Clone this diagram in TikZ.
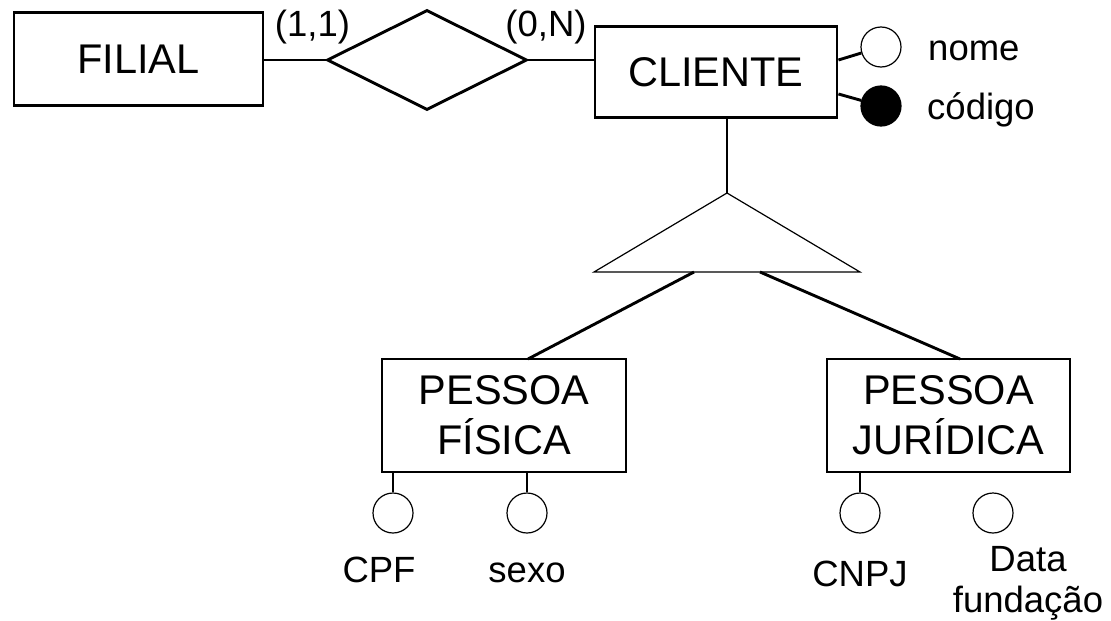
\documentclass[tikz,border=0pt]{standalone}
\usepackage{fontspec}
\setmainfont{Liberation Sans}
\usetikzlibrary{shapes.geometric,calc}
\begin{document}
\begin{tikzpicture}[x=1pt,y=-1pt,
  thickline/.style={line width=2.9pt},
  entity/.style={draw,line width=2.9pt,inner sep=0pt,align=center,
    font=\fontsize{41.5}{50}\selectfont},
  attr/.style={draw,circle,line width=1.2pt,minimum size=40pt,inner sep=0pt},
  keyattr/.style={attr,fill=black},
  lbl/.style={inner sep=0pt,align=center,font=\fontsize{36.5}{41}\selectfont}]
\useasboundingbox (0,0) rectangle (1111,621);
% entities
\node[entity,minimum width=249pt,minimum height=93pt] (filial) at (138.5,59) {FILIAL};
\node[draw,diamond,line width=2.9pt,minimum width=200pt,minimum height=100pt,inner sep=0pt] (rel) at (427,60) {};
\node[entity,minimum width=242pt,minimum height=91pt] (cliente) at (716,72) {CLIENTE};
\node[entity,minimum width=244pt,minimum height=113pt] (pf) at (504,415.5) {PESSOA\\FÍSICA};
\node[entity,minimum width=243pt,minimum height=113pt] (pj) at (948.5,415.5) {PESSOA\\JURÍDICA};
% relationship connectors
\draw[thickline] (filial.east |- rel.west) -- (rel.west);
\draw[thickline] (rel.east) -- (rel.east -| cliente.west);
\node[lbl] (c11) at (312.5,27) {(1,1)};
\node[lbl] (c0n) at (546,27) {(0,N)};
% CLIENTE attributes
\node[attr] (nome) at (881,47) {};
\node[keyattr] (codigo) at (881,106) {};
\draw[thickline] ($(cliente.east)+(0,-12)$) -- (nome);
\draw[thickline] ($(cliente.east)+(0,22)$) -- (codigo);
\node[lbl,anchor=west] (nomel) at (928,51) {nome};
\node[lbl,anchor=west] (codigol) at (927,110) {código};
% specialization triangle
\coordinate (isaTop) at (727,193);
\coordinate (isaL) at (594,272);
\coordinate (isaR) at (860,272);
\draw[line width=1.2pt,line join=miter] (isaTop) -- (isaL) -- (isaR) -- cycle;
\draw[thickline] (isaTop |- cliente.south) -- (isaTop);
\coordinate (isaPF) at (694,272);
\coordinate (isaPJ) at (760,272);
\draw[thickline] (isaPF) -- (528,359);
\draw[thickline] (isaPJ) -- (960,359);
% PF attributes
\node[attr] (cpf) at (393,513) {};
\node[attr] (sexo) at (527,513) {};
\draw[thickline] (cpf |- pf.south) -- (cpf);
\draw[thickline] (sexo |- pf.south) -- (sexo);
\node[lbl] (cpfl) at (379,570) {CPF};
\node[lbl] (sexol) at (527,573) {sexo};
% PJ attributes
\node[attr] (cnpj) at (860,513) {};
\node[attr] (dataf) at (993,513) {};
\draw[thickline] (cnpj |- pj.south) -- (cnpj);
\node[lbl] (cnpjl) at (860,574) {CNPJ};
\node[lbl] (datafl) at (1028,583) {Data\\fundação};
\end{tikzpicture}
\end{document}
